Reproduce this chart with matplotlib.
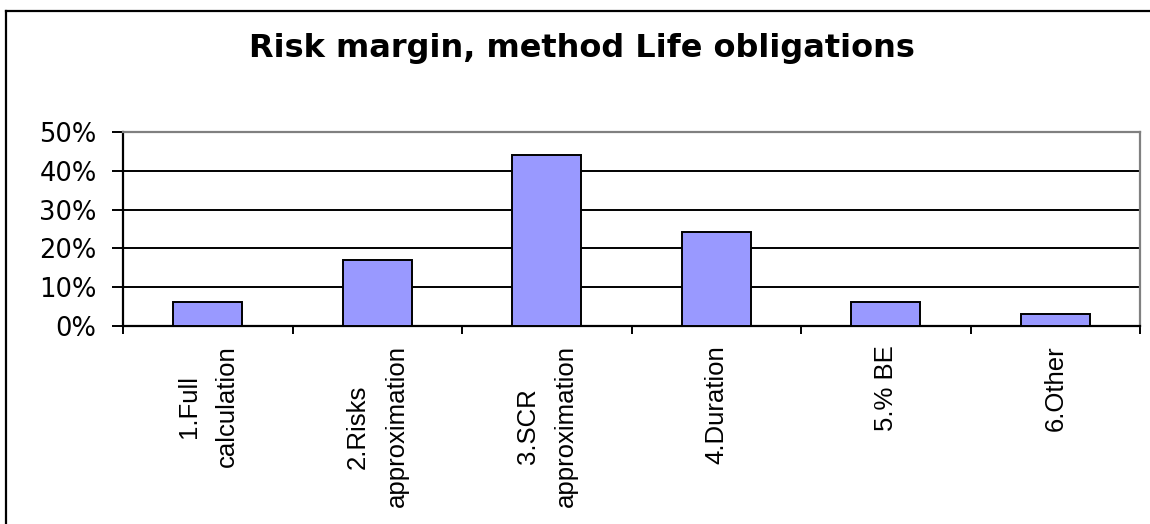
import matplotlib
matplotlib.use("Agg")
import matplotlib.pyplot as plt
from matplotlib.lines import Line2D
from matplotlib.ticker import FuncFormatter

categories = ["1.Full\ncalculation", "2.Risks\napproximation", "3.SCR\napproximation",
              "4.Duration", "5.% BE", "6.Other"]
values = [6.2, 17.0, 44.0, 24.2, 6.2, 3.1]
yticks = [0, 10, 20, 30, 40, 50]
title = "Risk margin, method Life obligations"

W, H = 1150, 524
fig = plt.figure(figsize=(W / 100, H / 100), dpi=100)
fig.patch.set_facecolor("white")

# outer frame (left and top visible)
fig.add_artist(Line2D([6 / W, 6 / W], [0, 1 - 11 / H], transform=fig.transFigure,
                      color="black", lw=1.6))
fig.add_artist(Line2D([6 / W, 1], [1 - 11 / H, 1 - 11 / H], transform=fig.transFigure,
                      color="black", lw=1.6))

left, right, top, bottom = 123, 1140, 132, 326
ax = fig.add_axes([left / W, 1 - bottom / H, (right - left) / W, (bottom - top) / H])

x = list(range(len(categories)))
ax.bar(x, values, width=0.41, color="#9999FF", edgecolor="black", linewidth=1.4, zorder=3)

ax.set_xlim(-0.5, len(categories) - 0.5)
ax.set_ylim(0, 50)
ax.set_yticks(yticks)
ax.yaxis.set_major_formatter(FuncFormatter(lambda v, p: f"{v:.0f}%"))
ax.yaxis.grid(True, color="black", linewidth=1.4, zorder=1)
ax.set_axisbelow(True)

# category boundary ticks on x axis
ax.set_xticks([i - 0.5 for i in range(len(categories) + 1)], minor=False)
ax.set_xticklabels([])
ax.set_xticks(x, minor=True)
ax.set_xticklabels(categories, minor=True, rotation=90, ha="center", va="top",
                   multialignment="center", fontsize=18.5, family="Liberation Sans",
                   linespacing=1.75)
ax.tick_params(axis="x", which="major", direction="out", length=6, width=1.4, color="black")
ax.tick_params(axis="x", which="minor", length=0, pad=14)
ax.tick_params(axis="y", direction="out", length=8, width=1.4, color="black",
               labelsize=18.5, pad=11)

for s in ["left", "bottom"]:
    ax.spines[s].set_color("black")
    ax.spines[s].set_linewidth(1.6)
for s in ["top", "right"]:
    ax.spines[s].set_color("#808080")
    ax.spines[s].set_linewidth(1.6)

fig.text(582 / W, 1 - 48 / H, title, ha="center", va="center",
         fontsize=23, fontweight="bold")

fig.savefig("out.png", dpi=100)
